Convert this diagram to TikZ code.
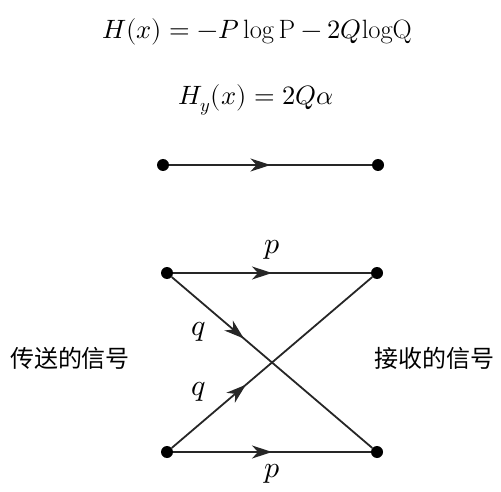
\documentclass[tikz,border=0pt]{standalone}
\usepackage{fontspec}
\usepackage{unicode-math}
\newfontfamily\cjk{Noto Sans CJK SC}
\usetikzlibrary{arrows.meta,decorations.markings}
\tikzset{
  dot/.style={circle,fill=black,inner sep=0pt,minimum size=12pt},
  edge/.style={line width=1.8pt,draw=black!85},
  arrowat/.style={postaction={decorate},decoration={markings,
    mark=at position #1 with {\arrow{Stealth[length=20pt,width=13pt,inset=6pt]}}}},
  mathlabel/.style={font=\fontsize{30}{32}\selectfont},
  cjklabel/.style={font=\cjk\fontsize{24}{28}\selectfont},
  formula/.style={font=\fontsize{26.5}{30}\selectfont}
}
\begin{document}
\begin{tikzpicture}[x=1pt,y=-1pt]
\useasboundingbox (0,0) rectangle (501,492);
\node[formula] (f1) at (257,32) {$H(x) = -P\log\mathrm{P} - 2Q\mathrm{logQ}$};
\node[formula] (f2) at (256,100) {$H_y(x) = 2Q\alpha$};
\node[dot] (a1) at (163,165) {};
\node[dot] (b1) at (378,165) {};
\draw[edge,arrowat=0.5] (a1) -- (b1);
\node[dot] (a2) at (167,273) {};
\node[dot] (b2) at (377,273) {};
\node[dot] (a3) at (167,452) {};
\node[dot] (b3) at (377,452) {};
\draw[edge,arrowat=0.5] (a2) -- (b2);
\draw[edge,arrowat=0.5] (a3) -- (b3);
\draw[edge,arrowat=0.36] (a2) -- (b3);
\draw[edge,arrowat=0.37] (a3) -- (b2);
\node[mathlabel] (p1) at (272,250) {$p$};
\node[mathlabel] (q1) at (199,332) {$q$};
\node[mathlabel] (q2) at (199,392) {$q$};
\node[mathlabel] (p2) at (272,474) {$p$};
\node[cjklabel] (s) at (70,358) {传送的信号};
\node[cjklabel] (r) at (434,358) {接收的信号};
\end{tikzpicture}
\end{document}
